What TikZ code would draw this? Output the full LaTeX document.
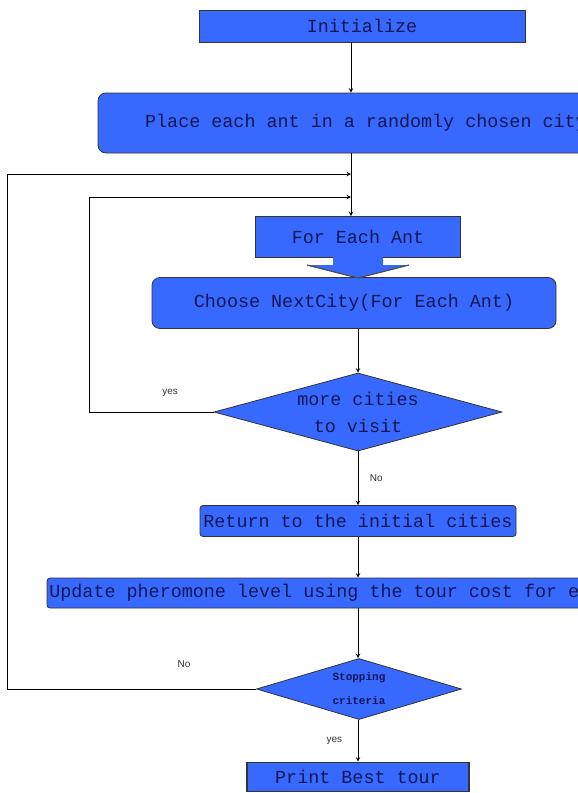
\documentclass[tikz,border=0pt]{standalone}
\usepackage{fontspec}
\setmonofont{Liberation Mono}
\setsansfont{Liberation Sans}
\usepackage{tikz}
\usetikzlibrary{shapes.geometric, arrows}
\definecolor{antblue}{RGB}{55,105,255}
\definecolor{navy}{RGB}{20,22,85}
\newcommand{\bigcode}{\ttfamily\fontsize{18.4}{27}\selectfont}
\newcommand{\smallcode}{\ttfamily\bfseries\fontsize{11}{24}\selectfont}
\tikzstyle{startstop} = [rectangle, rounded corners=8pt, draw=black!80, fill=antblue, text=navy, font=\bigcode, line width=0.8pt]
\tikzstyle{process} = [rectangle, draw=black!80, fill=antblue, text=navy, font=\bigcode, line width=0.8pt]
\tikzstyle{decision} = [diamond, draw=black!80, fill=antblue, text=navy, inner sep=0pt, align=center, line width=0.8pt]
\tikzstyle{arrow} = [line width=1pt,->,>=stealth]
\tikzstyle{note} = [font=\sffamily\fontsize{10}{11}\selectfont, text=black!80]

\begin{document}
\begin{tikzpicture}[x=1pt,y=-1pt]
\useasboundingbox (0,0) rectangle (578,793);
\coordinate (upper) at (351,0);
\coordinate (lower) at (358,0);
\coordinate (innerjoin) at (351,197);
\coordinate (outerjoin) at (351,174);

\node (init) [process, minimum width=326pt, minimum height=32pt] at (362,26) {Initialize};
\node (place) [startstop, minimum width=536pt, minimum height=60pt] at (366,123) {Place each ant in a randomly chosen city};
\node (each) [process, minimum width=205pt, minimum height=41pt] at (358,237) {For Each Ant};
\node (choose) [startstop, minimum width=404pt, minimum height=51pt] at (354,303) {Choose NextCity(For Each Ant)};
\node (more) [decision, aspect=3.7, minimum width=288pt, minimum height=78pt, font=\bigcode] at (358,412) {more cities\\to visit};
\node (back) [startstop, rounded corners=3pt, minimum width=316pt, minimum height=31pt, inner sep=1pt] at (358,521) {Return to the initial cities};
\node (update) [startstop, rounded corners=3pt, minimum width=612pt, minimum height=30pt, inner sep=1pt] at (353,593) {Update pheromone level using the tour cost for each ant};
\node (stop) [decision, aspect=3.3, minimum width=205pt, minimum height=61pt, font=\smallcode] at (359,689) {Stopping\\criteria};
\node (print) [process, minimum width=222pt, minimum height=29pt, line width=1.6pt, inner sep=1pt] at (358,777) {Print Best tour};

% block arrow under For Each Ant
\fill[antblue] (333,257) -- (333,265) -- (307,265) -- (358,278) -- (409,265) -- (383,265) -- (383,257) -- cycle;
\draw[line width=1.2pt, black!70] (307,265) -- (358,278) -- (409,265);

\draw[arrow] (init.south -| upper) -- (place.north -| upper);
\draw[arrow] (place.south -| upper) -- (each.north -| upper);
\draw[arrow] (choose.south -| lower) -- (more.north);
\draw[arrow] (more.south) -- node[note, right=8pt] {No} (back.north);
\draw[arrow] (back.south) -- (update.north -| back.south);
\draw[arrow] (update.south -| lower) -- (stop.north -| lower);
\draw[arrow] (stop.south -| lower) -- node[note, left=12pt] {yes} (print.north -| lower);

% loops back
\draw[arrow] (more.west) -- node[note, above=12pt, pos=0.35] {yes} ++(-124,0) |- (innerjoin);
\draw[arrow] (stop.west) -- node[note, above=18pt, pos=0.29] {No} ++(-248.5,0) |- (outerjoin);
\end{tikzpicture}
\end{document}
